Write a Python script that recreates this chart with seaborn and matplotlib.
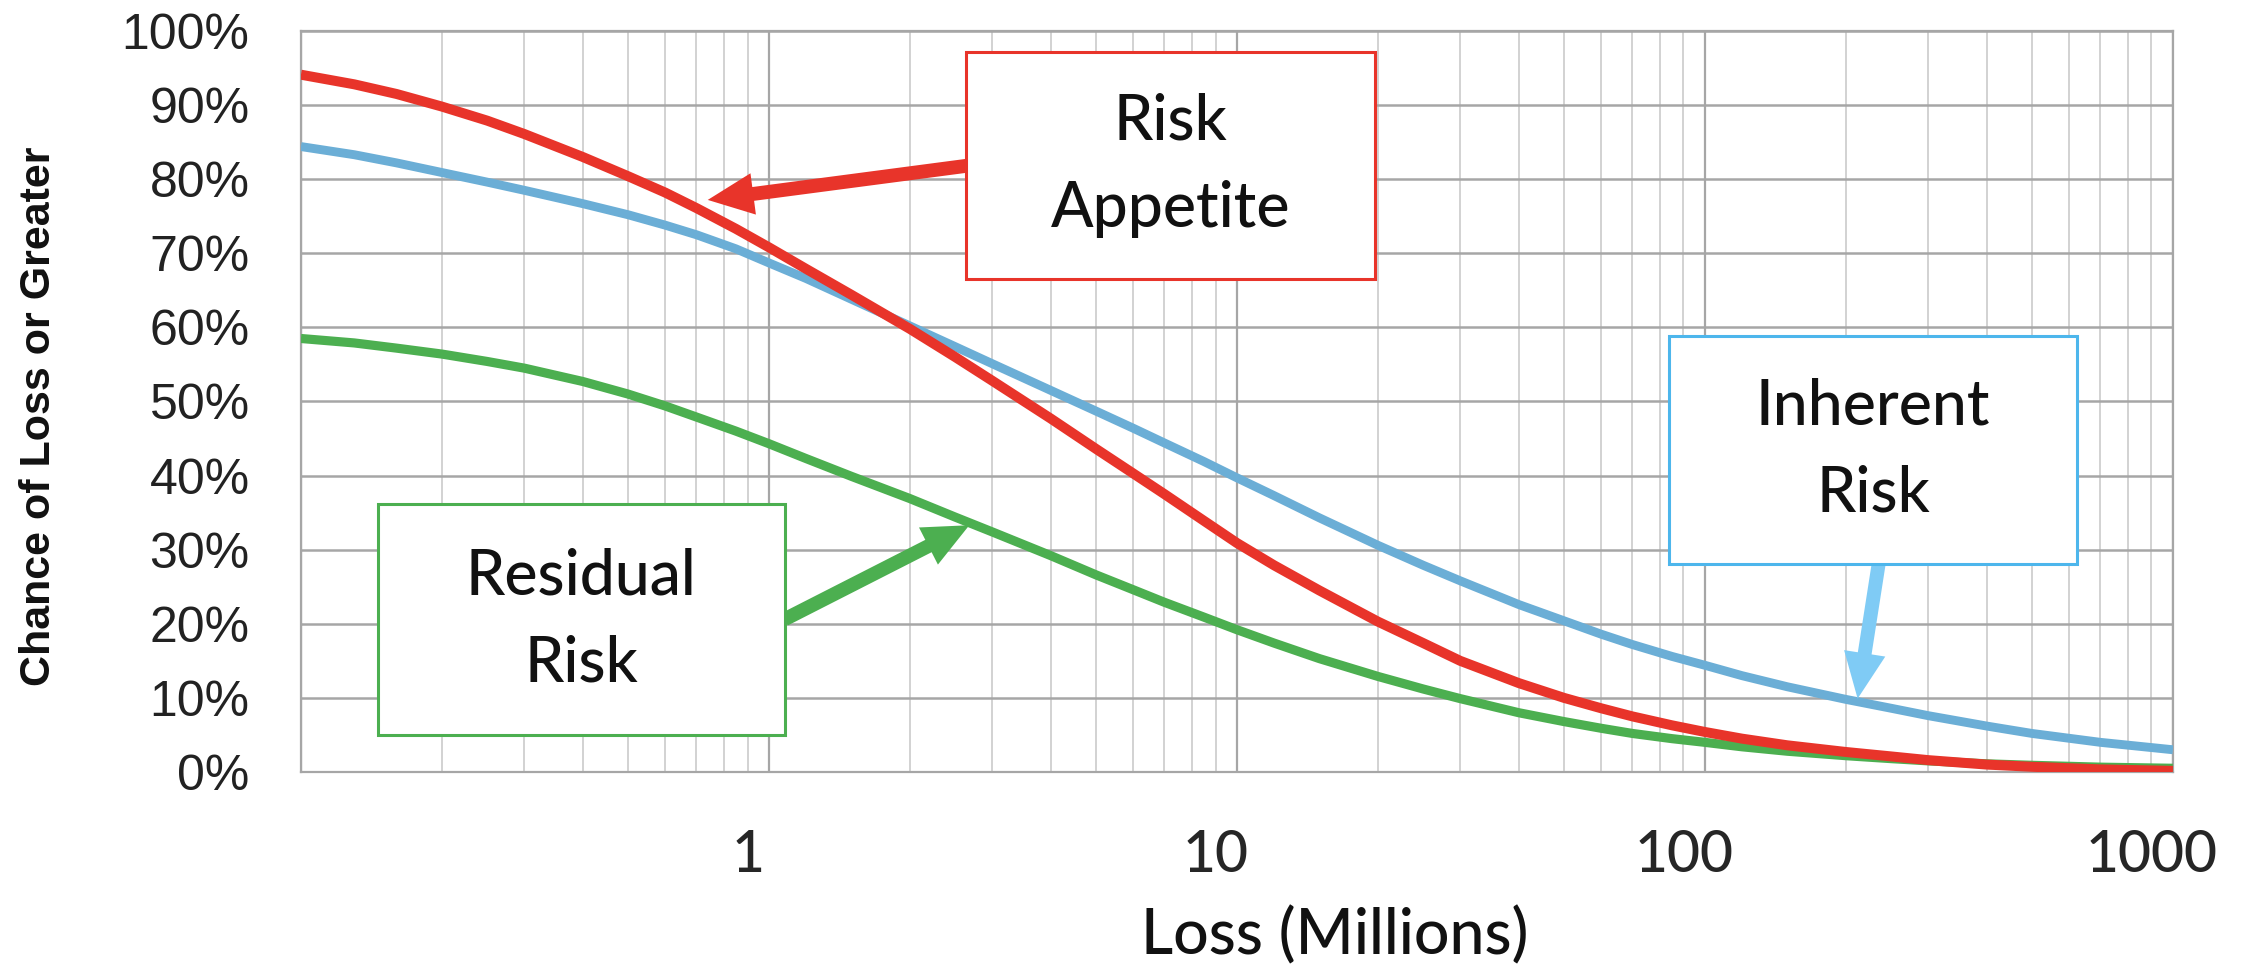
import matplotlib
matplotlib.use("Agg")
import matplotlib.pyplot as plt
import seaborn as sns
from matplotlib.patches import Rectangle
from matplotlib.ticker import FixedLocator, FixedFormatter, LogLocator, NullFormatter, PercentFormatter
from matplotlib.transforms import ScaledTranslation

# ── Dados ───────────────────────────────────────────────────────────────────

LOSS = [0.1, 0.13, 0.16, 0.2, 0.25, 0.3, 0.4, 0.5, 0.6, 0.7, 0.85,
        1, 1.2, 1.5, 2, 2.5, 3, 4, 5, 6, 7, 8.5,
        10, 12, 15, 20, 25, 30, 40, 50, 60, 70, 85,
        100, 120, 150, 200, 250, 300, 400, 500, 700, 1000]

RISK_APPETITE = [94.1, 92.8, 91.5, 89.8, 87.9, 86.1, 83.0, 80.4, 78.2, 76.1, 73.3,
                 70.8, 67.9, 64.4, 59.8, 56.0, 52.8, 47.7, 43.6, 40.3, 37.5, 33.9,
                 30.9, 27.9, 24.5, 20.3, 17.4, 15.0, 12.0, 10.0, 8.6, 7.5, 6.3,
                 5.4, 4.5, 3.6, 2.7, 2.1, 1.6, 1.0, 0.7, 0.35, 0.15]

INHERENT_RISK = [84.4, 83.3, 82.2, 80.9, 79.6, 78.5, 76.7, 75.2, 73.8, 72.5, 70.6,
                 68.7, 66.6, 63.8, 60.2, 57.4, 55.1, 51.5, 48.7, 46.4, 44.4, 41.9,
                 39.7, 37.3, 34.3, 30.6, 27.9, 25.8, 22.6, 20.4, 18.6, 17.2, 15.6,
                 14.4, 13.0, 11.5, 9.8, 8.6, 7.6, 6.2, 5.2, 4.0, 3.0]

RESIDUAL_RISK = [58.5, 57.9, 57.2, 56.4, 55.4, 54.5, 52.7, 51.0, 49.4, 47.9, 46.0,
                 44.3, 42.3, 39.9, 36.9, 34.4, 32.4, 29.2, 26.6, 24.6, 22.9, 20.9,
                 19.2, 17.4, 15.3, 12.9, 11.2, 9.9, 8.0, 6.8, 5.9, 5.2, 4.5,
                 4.0, 3.4, 2.8, 2.2, 1.8, 1.5, 1.1, 0.9, 0.65, 0.5]

X_TICKS = [0.1, 1, 10, 100, 1000]
X_TICK_LABELS = ["", "1", "10", "100", "1000"]
Y_TICKS = list(range(0, 101, 10))

# ── Estilo ──────────────────────────────────────────────────────────────────

RED = "#E8342A"
BLUE = "#6BAED6"
GREEN = "#4CAF50"
BOX_BLUE = "#4DB6EC"
ARROW_BLUE = "#7FCBF5"
GRID_DARK = "#a6a6a6"
GRID_LIGHT = "#d2d2d2"

TEXT_FONT = ["Lato", "DejaVu Sans"]
ARIAL_FONT = ["Liberation Sans", "DejaVu Sans"]

# caixas: texto, (x0, x1), (y0, y1), cor
BOXES = [
    ("Risk\nAppetite", (2.64, 19.7), (66.5, 97.2), RED),
    ("Inherent\nRisk", (84.0, 623), (28.0, 58.8), BOX_BLUE),
    ("Residual\nRisk", (0.146, 1.08), (5.0, 36.1), GREEN),
]

# setas: origem, destino, cor
ARROWS = [
    ((2.64, 81.8), (0.74, 77.2), RED),
    ((235, 28.0), (212, 9.9), ARROW_BLUE),
    ((1.08, 20.6), (2.68, 33.3), GREEN),
]

sns.set_theme(style="white")
plt.rcParams["font.family"] = TEXT_FONT

fig = plt.figure(figsize=(22.51, 9.68), dpi=100)
ax = fig.add_axes([0.1337, 0.2025, 0.8316, 0.7655])

series = [
    (INHERENT_RISK, BLUE, 6.4),
    (RESIDUAL_RISK, GREEN, 6.6),
    (RISK_APPETITE, RED, 7.2),
]
for values, color, lw in series:
    sns.lineplot(x=LOSS, y=values, ax=ax, color=color, linewidth=lw,
                 zorder=3, solid_capstyle="butt", solid_joinstyle="round")

ax.set_xscale("log")
ax.set_xlim(0.1, 1000)
ax.set_ylim(0, 100)

ax.xaxis.set_major_locator(FixedLocator(X_TICKS))
ax.xaxis.set_major_formatter(FixedFormatter(X_TICK_LABELS))
ax.xaxis.set_minor_locator(LogLocator(base=10, subs=range(2, 10)))
ax.xaxis.set_minor_formatter(NullFormatter())
ax.set_yticks(Y_TICKS)
ax.yaxis.set_major_formatter(PercentFormatter(100, decimals=0))

ax.grid(True, which="major", axis="x", color=GRID_DARK, lw=1.6, zorder=0)
ax.grid(True, which="minor", axis="x", color=GRID_LIGHT, lw=1.4, zorder=0)
ax.grid(True, which="major", axis="y", color=GRID_DARK, lw=1.8, zorder=0)
for spine in ax.spines.values():
    spine.set_color(GRID_DARK)
    spine.set_linewidth(1.6)

ax.tick_params(axis="x", which="major", direction="out", length=13, width=1.6,
               color=GRID_DARK, pad=28, labelsize=41)
ax.tick_params(axis="x", which="minor", length=0)
ax.tick_params(axis="y", which="major", direction="out", length=15, width=1.8,
               color=GRID_DARK, pad=22, labelsize=36)
for label in ax.get_yticklabels():
    label.set_family(ARIAL_FONT)
    label.set_color("#222222")
shift = ScaledTranslation(-0.21, 0, fig.dpi_scale_trans)
for label in ax.get_xticklabels():
    label.set_transform(label.get_transform() + shift)
    label.set_fontweight(500)

ax.set_ylabel("Chance of Loss or Greater", family=ARIAL_FONT,
              fontweight="bold", fontsize=31, color="#111111")
ax.yaxis.set_label_coords(-0.129, 0.480)
ax.set_xlabel("Loss (Millions)", fontsize=45, fontweight=500, color="#111111")
ax.xaxis.set_label_coords(0.5524, -0.2456)
ax.xaxis.label.set_va("baseline")

for text, (x0, x1), (y0, y1), color in BOXES:
    ax.add_patch(Rectangle((x0, y0), x1 - x0, y1 - y0, facecolor="white",
                           edgecolor=color, lw=2.2, zorder=6))
    xc = (x0 * x1) ** 0.5
    ax.text(xc, (y0 + y1) / 2, text, ha="center", va="center", fontsize=45,
            fontweight=500, linespacing=1.62, color="#111111", zorder=7)

for start, end, color in ARROWS:
    ax.annotate("", xy=end, xytext=start, zorder=5,
                arrowprops=dict(arrowstyle="simple,head_length=3.3,head_width=3.0,tail_width=1.0",
                                color=color, lw=0, shrinkA=0, shrinkB=0,
                                mutation_scale=10))

fig.savefig("out.png", dpi=100)
